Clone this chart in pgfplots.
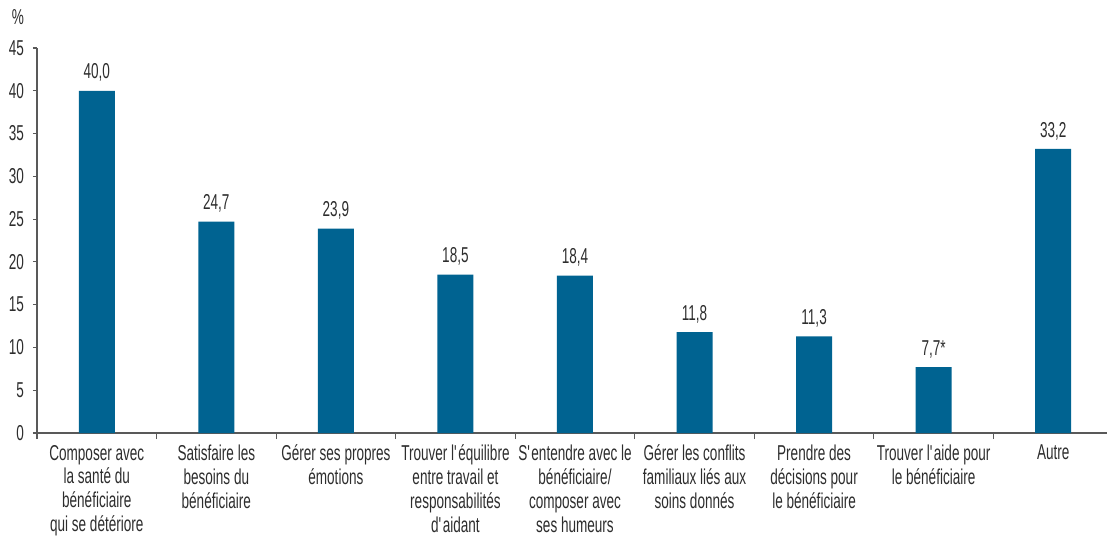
\documentclass[border=0pt]{standalone}
\usepackage{fontspec}
\setmainfont[FakeStretch=0.63]{Liberation Sans}
\usepackage{pgfplots}
\pgfplotsset{compat=1.18}
\definecolor{barblue}{RGB}{0,99,145}
\definecolor{txt}{RGB}{45,45,45}
\begin{document}
\begin{tikzpicture}
\useasboundingbox (-18.5bp,-52bp) rectangle (535bp,216.5bp);
\begin{axis}[
 at={(0,0)}, anchor=south west,
 scale only axis, width=535bp, height=192.5bp,
 xmin=-0.5, xmax=8.45, ymin=0, ymax=45,
 axis x line*=bottom, axis y line*=left,
 axis line style={draw=black!65, line width=0.6bp, -},
 tick align=outside,
 ytick={0,5,...,45},
 xtick={0,...,8},
 xticklabels={
  {Composer avec\\la santé du\\bénéficiaire\\qui se détériore},
  {Satisfaire les\\besoins du\\bénéficiaire},
  {Gérer ses propres\\émotions},
  {Trouver l\textquotesingle équilibre\\entre travail et\\responsabilités\\d\textquotesingle aidant},
  {S\textquotesingle entendre avec le\\bénéficiaire/\\composer avec\\ses humeurs},
  {Gérer les conflits\\familiaux liés aux\\soins donnés},
  {Prendre des\\décisions pour\\le bénéficiaire},
  {Trouver l\textquotesingle aide pour\\le bénéficiaire},
  {Autre}},
 major x tick style={draw=none},
 minor xtick={-0.5,0.5,...,7.5},
 minor tick length=3bp,
 major tick length=2bp,
 tick style={draw=black!65, line width=0.6bp},
 /pgf/number format/assume math mode=true,
 ticklabel style={font=\fontsize{10.8}{12}\selectfont, text=txt},
 xticklabel style={align=center, yshift=-0.5bp},
 yticklabel style={xshift=-1bp},
 nodes near coords,
 point meta=explicit symbolic,
 nodes near coords style={font=\fontsize{10.8}{12}\selectfont, text=txt, yshift=1bp},
]
\addplot[ybar, bar width=18bp, fill=barblue, draw=none] table[x=x, y=y, meta=lab] {
x y lab
0 40.0 40,0
1 24.7 24,7
2 23.9 23,9
3 18.5 18,5
4 18.4 18,4
5 11.8 11,8
6 11.3 11,3
7 7.7 7,7*
8 33.2 33,2
};
\end{axis}
\node[font=\fontsize{10.8}{12}\selectfont, text=txt] at (-9.5bp,208bp) {\%};
\end{tikzpicture}
\end{document}
